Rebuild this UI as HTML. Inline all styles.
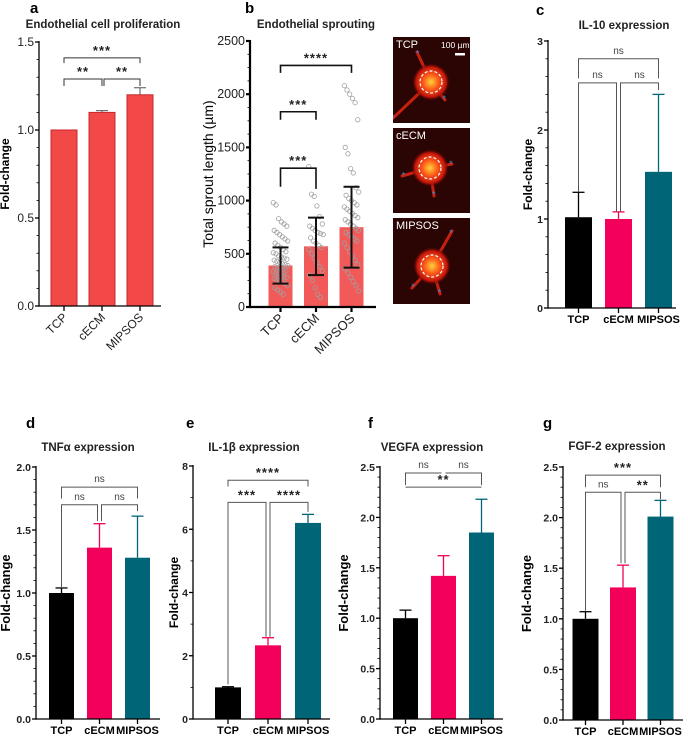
<!DOCTYPE html>
<html><head><meta charset="utf-8"><style>
body{margin:0;background:#fff;}
svg{display:block;font-family:"Liberation Sans",sans-serif;}
.t{font-family:"Liberation Sans",sans-serif;font-weight:bold;}
</style></head><body>
<svg id="fig" width="688" height="737" viewBox="0 0 688 737"></svg>
<script>
const cats = ['TCP','cECM','MIPSOS'];
const aValues = [1.0, 1.1, 1.2];
const aErrors = [0, 0.01, 0.04];
const bValues = [390, 570, 750];
const bErrors = [170, 270, 380];
const bPtsTCP = [980,960,830,800,780,760,720,700,680,660,640,620,600,580,560,540,520,510,500,480,470,460,450,440,430,420,410,400,390,380,370,360,350,340,330,320,310,300,290,280,270,260,250,240,220,200,180,160,140,120];
const bPtsCECM = [1320,1060,1040,950,850,780,760,740,720,700,690,680,650,620,600,580,560,540,500,460,420,380,340,300,250,180,120,90];
const bPtsMIP = [2080,2040,2000,1960,1920,1760,1500,1440,1300,1260,1120,1080,1050,1020,1000,980,960,940,920,900,880,860,840,820,800,780,760,740,720,700,680,660,640,620,600,560,520,480,440,400,360,320,280,240,200,150];
const cValues = [1.02, 1.0, 1.53];
const cErrors = [0.28, 0.08, 0.87];
const dValues = [1.0, 1.36, 1.28];
const dErrors = [0.04, 0.19, 0.33];
const eValues = [1.0, 2.33, 6.2];
const eErrors = [0.02, 0.24, 0.27];
const fValues = [1.0, 1.42, 1.85];
const fErrors = [0.08, 0.2, 0.33];
const gValues = [1.0, 1.31, 2.01];
const gErrors = [0.07, 0.22, 0.16];

const NS='http://www.w3.org/2000/svg';
const svg=document.getElementById('fig');
function el(tag,attrs,parent,txt){const e=document.createElementNS(NS,tag);for(const k in attrs)e.setAttribute(k,attrs[k]);if(txt!==undefined)e.textContent=txt;(parent||svg).appendChild(e);return e;}
const colors3=['#000000','#f2005a','#006577'];

function panel(p){
  const g=el('g',{});
  
  
  const sy=v=>p.y0-(v/p.max)*(p.y0-p.top);
  const cx=i=>p.c0+i*p.step;
  const L=el('text',{x:p.lx,y:p.ly,'font-size':15,'class':'t'},g,p.letter);
  
  const T=el('text',{x:p.tx,y:p.ty,'font-size':p.tfs||11.5,'class':'t','text-anchor':'middle',fill:'#222'},g,p.title);
  
  p.values.forEach((v,i)=>{
    const fill=p.fill||colors3[i];
    const r=el('rect',{x:cx(i)-p.w/2,y:sy(v),width:p.w,height:p.y0-sy(v),fill:fill,stroke:p.stroke||'none','stroke-width':1},g);
    
    
  });
  if(p.pts){p.pts.forEach((arr,i)=>{arr.forEach((v,k)=>{const j=((k*37)%17-8)*0.9;
    const c=el('circle',{cx:cx(i)+j,cy:sy(v),r:2.2,fill:'none',stroke:'#a0a0a0','stroke-width':0.8},g);
    });});}
  p.values.forEach((v,i)=>{
    const e=p.errors[i];if(!e&&!p.two)return;
    const col=p.ecol||colors3[i];const sw=p.esw||1.3;const cw=p.cap||6;
    const lo=p.two?v-e:v;
    const l=el('line',{x1:cx(i),x2:cx(i),y1:sy(lo),y2:sy(v+e),stroke:col,'stroke-width':sw},g);
    
    el('line',{x1:cx(i)-cw,x2:cx(i)+cw,y1:sy(v+e),y2:sy(v+e),stroke:col,'stroke-width':sw},g);
    if(p.two)el('line',{x1:cx(i)-cw,x2:cx(i)+cw,y1:sy(lo),y2:sy(lo),stroke:col,'stroke-width':sw},g);
  });
  const aw=p.aw||1.3;
  const ya=el('line',{x1:p.x0,x2:p.x0,y1:p.top-1,y2:p.y0+aw/2,stroke:'#000','stroke-width':aw},g);
  
  const xa=el('line',{x1:p.x0,x2:p.xEnd,y1:p.y0,y2:p.y0,stroke:'#000','stroke-width':aw},g);
  
  p.ticks.forEach((t,k)=>{
    el('line',{x1:p.x0-4,x2:p.x0,y1:sy(t),y2:sy(t),stroke:'#000','stroke-width':aw},g);
    const tl=el('text',{x:p.x0-5,y:sy(t)+4,'font-size':p.tkfs||10.5,'text-anchor':'end','font-weight':p.tkb?'bold':'normal',fill:'#222'},g,p.tickLabels[k]);
    
  });
  if(p.minor){const st=(p.ticks[1]-p.ticks[0])/p.minor;for(let v=0;v<=p.max+1e-9;v+=st)el('line',{x1:p.x0-2.5,x2:p.x0,y1:sy(v),y2:sy(v),stroke:'#000','stroke-width':0.8},g);}
  cats.forEach((c,i)=>{
    el('line',{x1:cx(i),x2:cx(i),y1:p.y0,y2:p.y0+5,stroke:'#000','stroke-width':aw},g);
    let t;
    if(p.rot){t=el('text',{x:cx(i)+4,y:p.y0+12,'font-size':p.xfs||12,'text-anchor':'end',transform:`rotate(-45 ${cx(i)+4} ${p.y0+12})`,fill:'#222'},g,c);}
    else t=el('text',{x:cx(i),y:p.y0+15,'font-size':11,'font-weight':'bold','text-anchor':'middle'},g,c);
    
  });
  const yl=el('text',{x:p.ylx,y:(p.y0+p.top)/2,'font-size':p.ylfs||12,'font-weight':p.ylb===false?'normal':'bold','text-anchor':'middle',transform:`rotate(-90 ${p.ylx} ${(p.y0+p.top)/2})`},g,p.ylabel);
  
  (p.brackets||[]).forEach(b=>{
    const xa=cx(b[0])+(b[6]||0),xb=cx(b[1])+(b[7]||0),y=sy(b[2]);
    let d=`M${xa},${b[3]==null?y:sy(b[3])} L${xa},${y} L${xb},${y} L${xb},${b[4]==null?y:sy(b[4])}`;
    const pa=el('path',{d:d,fill:'none',stroke:p.bcol||'#333','stroke-width':p.bsw||1},g);
    
    const isNs=b[5]==='ns';
    const tx=b[8]!=null?cx(b[8]):(xa+xb)/2;
    const tt=el('text',{x:tx,y:y-(isNs?5:3),'font-size':isNs?10:13,'font-weight':isNs?'normal':'bold','text-anchor':'middle',fill:isNs?'#444':'#222','letter-spacing':isNs?0:1},g,b[5]);
    
  });
}

panel({name:'panel-a-proliferation',letter:'a',lx:30,ly:13,title:'Endothelial cell proliferation',tx:103,ty:28,
 values:aValues,errors:aErrors,fill:'#f24848',stroke:'#c42a2a',ecol:'#555',esw:1,cap:6,
 x0:39,y0:306,top:42,max:1.5,xEnd:161,c0:64,step:38,w:26,ticks:[0,0.5,1,1.5],tickLabels:['0.0','0.5','1.0','1.5'],tkfs:12,minor:5,
 rot:true,ylx:9,ylabel:'Fold-change',ylfs:12,
 brackets:[[0,2,1.41,1.38,1.38,'***'],[0,1,1.29,1.25,1.25,'**'],[1,2,1.29,1.25,1.25,'**',2,0]]});
panel({name:'panel-b-sprouting',letter:'b',lx:245,ly:13,title:'Endothelial sprouting',tx:316,ty:28,
 values:bValues,errors:bErrors,fill:'#f25a5a',ecol:'#111',esw:2,cap:8,two:true,pts:[bPtsTCP,bPtsCECM,bPtsMIP],
 x0:250,y0:307,top:41,max:2500,xEnd:376,c0:280.5,step:35.5,w:24,ticks:[0,500,1000,1500,2000,2500],tickLabels:['0','500','1000','1500','2000','2500'],tkfs:12.5,minor:4,aw:2.2,
 rot:true,xfs:13,ylx:213,ylabel:'Total sprout length (µm)',ylfs:14,ylb:false,bcol:'#111',bsw:1.6,
 brackets:[[0,2,2270,2200,2200,'****'],[0,1,1835,1760,1760,'***'],[0,1,1305,1130,1110,'***']]});
panel({name:'panel-c-il10',letter:'c',lx:536,ly:15,title:'IL-10 expression',tx:624,ty:29,
 values:cValues,errors:cErrors,x0:548,y0:308,top:41,max:3,xEnd:676,c0:578.5,step:40,w:27,ticks:[0,1,2,3],tickLabels:['0','1','2','3'],tkb:true,minor:5,
 ylx:532,ylabel:'Fold-change',bcol:'#555',
 brackets:[[0,2,2.8,2.58,2.58,'ns'],[0,1,2.53,1.3,1.08,'ns',0,-2],[1,2,2.53,1.08,2.45,'ns',2,0]]});
panel({name:'panel-d-tnfa',letter:'d',lx:26,ly:428,title:'TNFα expression',tx:88,ty:451,
 values:dValues,errors:dErrors,x0:36,y0:719,top:467,max:2,xEnd:160,c0:61.5,step:38,w:25,ticks:[0,0.5,1,1.5,2],tickLabels:['0.0','0.5','1.0','1.5','2.0'],tkb:true,minor:5,
 ylx:10,ylabel:'Fold-change',ylfs:13,bcol:'#555',
 brackets:[[0,2,1.84,1.75,1.75,'ns'],[0,1,1.7,1.04,1.57,'ns',0,-2],[1,2,1.7,1.57,1.65,'ns',2,0]]});
panel({name:'panel-e-il1b',letter:'e',lx:186,ly:428,title:'IL-1β expression',tx:254,ty:451,
 values:eValues,errors:eErrors,x0:193,y0:719,top:466,max:8,xEnd:330,c0:228,step:40,w:26,ticks:[0,2,4,6,8],tickLabels:['0','2','4','6','8'],tkb:true,minor:2,
 ylx:178,ylabel:'Fold-change',bcol:'#555',
 brackets:[[0,2,7.55,7.35,7.35,'****'],[0,1,6.85,1.1,2.6,'***',0,-2],[1,2,6.85,2.6,6.55,'****',2,0]]});
panel({name:'panel-f-vegfa',letter:'f',lx:368,ly:428,title:'VEGFA expression',tx:432,ty:451,
 values:fValues,errors:fErrors,x0:380,y0:719,top:467,max:2.5,xEnd:503,c0:405.5,step:38,w:25,ticks:[0,0.5,1,1.5,2,2.5],tickLabels:['0.0','0.5','1.0','1.5','2.0','2.5'],tkb:true,minor:5,
 ylx:348,ylabel:'Fold-change',ylfs:13,bcol:'#555',
 brackets:[[0,1,2.44,2.32,null,'ns',0,-2],[1,2,2.44,null,2.32,'ns',2,0],[0,2,2.3,null,null,'**',0,0,1]]});
panel({name:'panel-g-fgf2',letter:'g',lx:543,ly:428,title:'FGF-2 expression',tx:617,ty:450,
 values:gValues,errors:gErrors,x0:563,y0:720,top:467,max:2.5,xEnd:683,c0:585.5,step:37.5,w:26,ticks:[0,0.5,1,1.5,2,2.5],tickLabels:['0.0','0.5','1.0','1.5','2.0','2.5'],tkb:true,minor:5,
 ylx:531,ylabel:'Fold-change',ylfs:13,bcol:'#555',
 brackets:[[0,2,2.42,2.3,2.3,'***'],[0,1,2.25,1.08,1.55,'ns',0,-2],[1,2,2.25,1.55,2.18,'**',2,0]]});

const defs=el('defs',{});
const rg=el('radialGradient',{id:'glow'},defs);
el('stop',{offset:'0','stop-color':'#ffd23a'},rg);el('stop',{offset:'0.4','stop-color':'#ff5a1a'},rg);el('stop',{offset:'0.8','stop-color':'#c0140a'},rg);el('stop',{offset:'1','stop-color':'#3a0000','stop-opacity':0},rg);
const imgs=[{y:37,h:86,t:'TCP',cx:431,cy:82,ar:[[-14,-30],[14,18],[-40,38]]},{y:128,h:85,t:'cECM',cx:430,cy:168,ar:[[-28,8],[22,-4],[4,28]]},{y:218,h:86,t:'MIPSOS',cx:432,cy:266,ar:[[20,-35],[-20,22],[8,28]]}];
imgs.forEach((m,idx)=>{
  const cp=el('clipPath',{id:'clip'+idx},defs);
  el('rect',{x:393,y:m.y,width:77,height:m.h},cp);
  const g=el('g',{'clip-path':'url(#clip'+idx+')'});
  
  
  el('rect',{x:393,y:m.y,width:77,height:m.h,fill:'#2a0503'},g);
  m.ar.forEach(a=>el('line',{x1:m.cx,y1:m.cy,x2:m.cx+a[0],y2:m.cy+a[1],stroke:'#c8200e','stroke-width':3,'stroke-linecap':'round'},g));
  el('circle',{cx:m.cx,cy:m.cy,r:19,fill:'url(#glow)'},g);
  el('circle',{cx:m.cx,cy:m.cy,r:11,fill:'none',stroke:'#fff','stroke-width':1.2,'stroke-dasharray':'3 2'},g);
  m.ar.forEach(a=>el('text',{x:m.cx+a[0]*0.95,y:m.cy+a[1]*0.95+3,'font-size':9,fill:'#3a8ad8','text-anchor':'middle'},g,'*'));
  el('text',{x:396,y:m.y+11,'font-size':11,fill:'#fff'},g,m.t);
});
el('text',{x:441,y:48,'font-size':8.5,fill:'#fff'},svg,'100 µm');
el('rect',{x:455,y:53,width:10,height:2.5,fill:'#fff'},svg);
</script>
</body></html>
